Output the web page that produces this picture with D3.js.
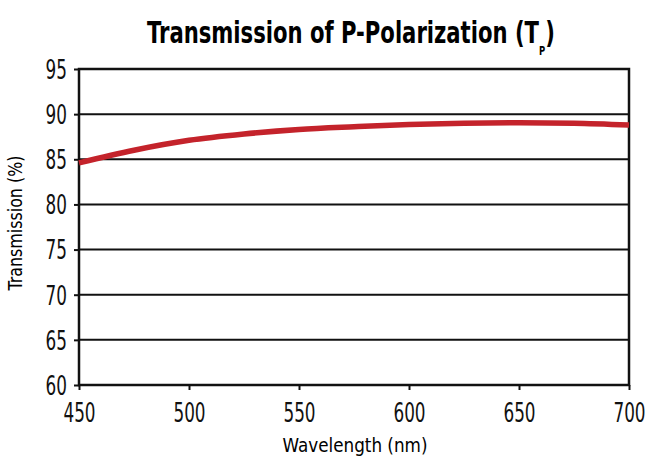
<!DOCTYPE html>
<html><head><meta charset="utf-8">
<script src="https://cdn.jsdelivr.net/npm/d3@7"></script>
<style>
body{margin:0;background:#fff;}
text{font-family:"DejaVu Sans Condensed","Liberation Sans Narrow",sans-serif;}
</style></head><body>
<svg id="chart" width="648" height="462"></svg>
<script>
const wavelength = [450, 475, 500, 525, 550, 575, 600, 625, 650, 675, 700];
const transmission = [84.6, 86.0, 87.1, 87.8, 88.3, 88.6, 88.85, 89.0, 89.05, 89.0, 88.8];
const xTicks = [450, 500, 550, 600, 650, 700];
const yTicks = [60, 65, 70, 75, 80, 85, 90, 95];

const svg = d3.select("#chart");
const m = {left: 79, right: 629, top: 69, bottom: 385};
const x = d3.scaleLinear().domain([450, 700]).range([m.left, m.right]);
const y = d3.scaleLinear().domain([60, 95]).range([m.bottom, m.top]);
const sx = 0.72; // condensed look

// gridlines
svg.append("g").selectAll("line").data(yTicks).join("line")
  .attr("x1", m.left).attr("x2", m.right)
  .attr("y1", d => y(d)).attr("y2", d => y(d))
  .attr("stroke", "#111").attr("stroke-width", 2);

// border
svg.append("rect").attr("x", m.left).attr("y", m.top)
  .attr("width", m.right - m.left).attr("height", m.bottom - m.top)
  .attr("fill", "none").attr("stroke", "#111").attr("stroke-width", 2.5);

// axes
const yAxis = svg.append("g").attr("transform", `translate(${m.left},0)`)
  .call(d3.axisLeft(y).tickValues(yTicks).tickSize(5));
const xAxis = svg.append("g").attr("transform", `translate(0,${m.bottom})`)
  .call(d3.axisBottom(x).tickValues(xTicks).tickSize(5));
[xAxis, yAxis].forEach(a => {
  a.select(".domain").remove();
  a.selectAll("line").attr("stroke", "#111").attr("stroke-width", 2);
  a.selectAll("text").attr("fill", "#111").style("font-size", "26px")
    .attr("transform", `scale(${sx},1)`);
});
xAxis.selectAll("text").attr("y", 37).attr("dy", 0);
yAxis.selectAll("text").attr("x", -12 / sx).attr("dy", "0.36em");

// line
svg.append("path").datum(wavelength.map((w, i) => [w, transmission[i]]))
  .attr("fill", "none").attr("stroke", "#C4232B").attr("stroke-width", 5.5)
  .attr("d", d3.line().x(d => x(d[0])).y(d => y(d[1])).curve(d3.curveMonotoneX));

function fit(sel, w) {
  const bw = sel.node().getBBox().width;
  return bw ? w / bw : 1;
}

// title
const tg = svg.append("g");
const t = tg.append("text").attr("text-anchor", "middle")
  .style("font-size", "30px").style("font-weight", "bold");
t.append("tspan").text("Transmission of P-Polarization (T");
t.append("tspan").attr("dy", 12).style("font-size", "12px").text("P");
t.append("tspan").attr("dy", -12).text(")");
tg.attr("transform", `translate(351,43) scale(${fit(t, 408)},1)`);

// axis labels
const xg = svg.append("g");
const xl = xg.append("text").attr("text-anchor", "middle").style("font-size", "20px").text("Wavelength (nm)");
xg.attr("transform", `translate(355,452) scale(${fit(xl, 145)},1)`);

const yg = svg.append("g");
const yl = yg.append("text").attr("text-anchor", "middle").style("font-size", "20px").text("Transmission (%)");
yg.attr("transform", `translate(22,223) rotate(-90) scale(${fit(yl, 136)},1)`);
</script></body></html>
